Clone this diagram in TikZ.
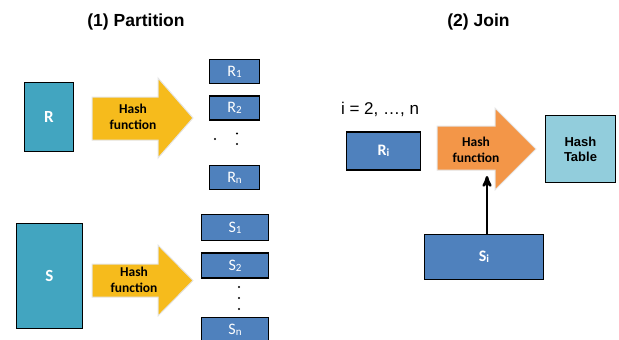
\documentclass[tikz,border=0pt]{standalone}
\usepackage{fontspec}
\setmainfont{Carlito}
\newfontfamily\arialfont{Liberation Sans}
\usepackage{tikz}
\usetikzlibrary{arrows,positioning}
\definecolor{tealbox}{RGB}{66,165,192}
\definecolor{bluebox}{RGB}{79,129,189}
\definecolor{goldarrow}{RGB}{246,187,28}
\definecolor{orangearrow}{RGB}{243,150,72}
\definecolor{tablebox}{RGB}{146,205,220}
\newcommand{\bsub}[1]{\raisebox{-1pt}{\fontsize{11}{12}\selectfont #1}}
\tikzset{
    %Define standard arrow tip
    >=stealth',
    %Define style for relations
    relation/.style={
           rectangle,
           draw=black, line width=1.5pt,
           fill=tealbox,
           text=white,
           inner sep=0pt,
           font=\bfseries\fontsize{17}{19}\selectfont},
    %Define style for partitions
    bucket/.style={
           rectangle,
           draw=black, line width=1.5pt,
           fill=bluebox,
           text=white,
           inner sep=0pt,
           minimum width=50pt,
           minimum height=24pt,
           font=\fontsize{16}{18}\selectfont},
    joinbox/.style={
           bucket,
           minimum height=38pt,
           font=\bfseries\fontsize{16}{18}\selectfont},
    tablebox/.style={
           rectangle,
           draw=black, line width=1.5pt,
           fill=tablebox,
           inner sep=0pt,
           minimum width=70pt,
           minimum height=67pt,
           align=center,
           font=\arialfont\bfseries\fontsize{13}{15}\selectfont},
    % Define style for block arrows
    blockarrow/.style={
           draw=black!10, line width=1pt},
    hashtext/.style={
           align=center,
           inner sep=0pt,
           font=\bfseries\fontsize{13.5}{16}\selectfont},
    title/.style={
           anchor=base,
           font=\arialfont\bfseries\fontsize{17.5}{20}\selectfont},
    dotmark/.style={
           circle, fill=black,
           inner sep=0pt, minimum size=2.2pt}
}
\begin{document}
\begin{tikzpicture}[x=1pt,y=-1pt]
\useasboundingbox (0,0) rectangle (619,340);

 %titles
\node[title] (part) at (136,27) {(1) Partition};
\node[title] (join) at (478.5,27) {(2) Join};

 %relations
\node[relation, minimum width=49pt, minimum height=69pt] (r) at (49,117) {R};
\node[relation, minimum width=66pt, minimum height=105pt] (s) at (49.5,276) {S};

 %hash arrows
\filldraw[blockarrow, fill=goldarrow] (92,97) -- (158,97) -- (158,78) -- (193,118)
    -- (158,158) -- (158,140) -- (92,140) -- cycle;
\node[hashtext] (hashr) at (133,117) {Hash\\function};
\filldraw[blockarrow, fill=goldarrow] (92,264) -- (158,264) -- (158,245) -- (193,280.5)
    -- (158,316) -- (158,297) -- (92,297) -- cycle;
\node[hashtext] (hashs) at (134,280) {Hash\\function};

 %partitions of R
\node[bucket] (r1) at (234.5,71.5) {R\bsub{1}};
\node[bucket, below=11pt of r1] (r2) {R\bsub{2}};
\node[bucket, below=44pt of r2] (rn) {R\bsub{n}};
\node[dotmark] (rdot) at (215,139) {};
\node[dotmark] (rcolon1) at (237,133.5) {};
\node[dotmark] (rcolon2) at (237,144) {};

 %partitions of S
\node[bucket, minimum width=67pt, minimum height=26pt] (s1) at (235,227.5) {S\bsub{1}};
\node[bucket, minimum width=67pt, minimum height=25pt, below=11pt of s1] (s2) {S\bsub{2}};
\node[bucket, minimum width=67pt, minimum height=25pt, below=38pt of s2] (sn) {S\bsub{n}};
\foreach \y [count=\k] in {287,298,309}
    \node[dotmark] (sdot\k) at (239,\y) {};

 %join phase
\node[anchor=base, font=\arialfont\fontsize{17}{20}\selectfont] (range) at (380,114) {i = 2, \dots, n};
\node[joinbox, minimum width=74pt] (ri) at (383.5,151) {R\bsub{i}};
\filldraw[blockarrow, fill=orangearrow] (437,126) -- (495,126) -- (495,108) -- (536,149)
    -- (495,190) -- (495,170) -- (437,170) -- cycle;
\node[hashtext] (hashj) at (476,150) {Hash\\function};
\node[tablebox] (table) at (580.5,149) {Hash\\Table};
\node[joinbox, minimum width=119pt, minimum height=45pt] (si) at (484,257) {S\bsub{i}};
\coordinate (probe) at (487,176);

\draw[->, line width=2.5pt] (si.north -| probe) -- (probe);

\end{tikzpicture}
\end{document}
